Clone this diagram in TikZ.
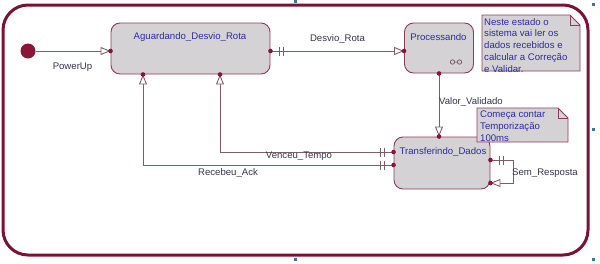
\documentclass[tikz,border=0pt]{standalone}
\usepackage{fontspec}
\setmainfont{Liberation Sans}
\usetikzlibrary{arrows.meta,decorations.markings,calc}
\definecolor{framec}{HTML}{7A1235}
\definecolor{statec}{HTML}{8A3C58}
\definecolor{fillc}{HTML}{D5D2D5}
\definecolor{linec}{HTML}{7E5C68}
\definecolor{dotc}{HTML}{8A1538}
\definecolor{textc}{HTML}{2B2BA0}
\definecolor{labelc}{HTML}{33334D}
\definecolor{handlec}{HTML}{2A8090}
\tikzset{
  statebox/.style={draw=statec, fill=fillc, rounded corners=9pt, line width=0.9pt, inner sep=0pt},
  statetext/.style={text=textc, inner sep=0pt},
  conn/.style={draw=linec, line width=0.9pt, -{Triangle[length=10pt,width=8pt,fill=white]}},
  barline/.style={draw=linec, line width=0.9pt, arrows=-},
  bars/.style={postaction={decorate, decoration={markings,
     mark=at position 9pt with {\draw[barline] (0,-4.5pt) -- (0,4.5pt);},
     mark=at position 13pt with {\draw[barline] (0,-4.5pt) -- (0,4.5pt);}}}},
  lbl/.style={text=labelc, inner sep=0pt},
  notebox/.style={draw=statec, fill=fillc, line width=0.8pt},
  notetext/.style={text=textc, inner sep=0pt, align=left, anchor=north west},
}
\begin{document}
\begin{tikzpicture}[x=1pt,y=-1pt, font=\fontsize{9.6}{11.8}\selectfont]
\useasboundingbox (0,0) rectangle (600,263);
% outer frame
\draw[framec, line width=3pt, rounded corners=25pt] (3,5) rectangle (588,255);
% selection handles
\foreach \hx/\hy in {295/1.5, 593/4, 593/129, 593/259, 295/259}
  \fill[handlec] (\hx-1.5,\hy-1.5) rectangle (\hx+1.5,\hy+1.5);

% states
\node[circle, fill=dotc, minimum size=15pt, inner sep=0pt] (init) at (28,51) {};
\node[statebox, minimum width=159pt, minimum height=51pt] (ag) at (190.5,48.5) {};
\node[statetext] (agt) at (190,37) {Aguardando\_Desvio\_Rota};
\node[statebox, minimum width=69pt, minimum height=50pt] (proc) at (439,48) {};
\node[statetext] (proct) at (438.5,37) {Processando};
\node[statebox, minimum width=96pt, minimum height=52pt] (tr) at (442,163) {};
\node[statetext] (trt) at (443,152) {Transferindo\_Dados};

% composite icon
\draw[linec, line width=0.8pt] (452.5,62) circle (2.2pt) (459.5,62) circle (2.2pt) (454.7,62) -- (457.3,62);

% connector coordinates
\coordinate (vt) at (220,152);
\coordinate (ra) at (143,165);
\coordinate (sa) at (513,160);
\coordinate (sb) at (513,183);

% connectors
\draw[conn] (init) -- (ag.west |- init);
\draw[conn, bars] (ag.east |- init) -- (proc.west |- init);
\draw[conn] (proc.south) -- (proc.south |- tr.north);
\draw[conn, bars] (tr.west |- vt) -- (vt) -- (vt |- ag.south);
\draw[conn, bars] (tr.west |- ra) -- (ra) -- (ra |- ag.south);
\draw[conn, bars] (tr.east |- sa) -- (sa) -- (sb) -- (tr.east |- sb);

% connection dots
\foreach \p in {(ag.west |- init), (ag.east |- init), (proc.west |- init), (proc.south), (proc.south |- tr.north),
                (tr.west |- vt), (vt |- ag.south), (tr.west |- ra), (ra |- ag.south), (tr.east |- sa), (tr.east |- sb)}
  \fill[dotc] \p circle (2.3pt);

% labels
\node[lbl] (l1) at (72.5,67) {PowerUp};
\node[lbl] (l2) at (337.5,39) {Desvio\_Rota};
\node[lbl] (l3) at (471,102) {Valor\_Validado};
\node[lbl] (l4) at (299,156) {Venceu\_Tempo};
\node[lbl] (l5) at (228,173) {Recebeu\_Ack};
\node[lbl] (l6) at (545,173) {Sem\_Resposta};

% notes
\draw[notebox] (482,15) -- (570,15) -- (580,25) -- (580,71) -- (482,71) -- cycle;
\draw[statec, line width=0.8pt] (570,15) -- (570,25) -- (580,25);
\node[notetext] (n1) at (484,18) {Neste estado o\\sistema vai ler os\\dados recebidos e\\calcular a Correção\\e Validar.};
\draw[notebox] (477,108) -- (558,108) -- (568,118) -- (568,142) -- (477,142) -- cycle;
\draw[statec, line width=0.8pt] (558,108) -- (558,118) -- (568,118);
\node[notetext] (n2) at (480,110.5) {Começa contar\\Temporização\\100ms};
\end{tikzpicture}
\end{document}
